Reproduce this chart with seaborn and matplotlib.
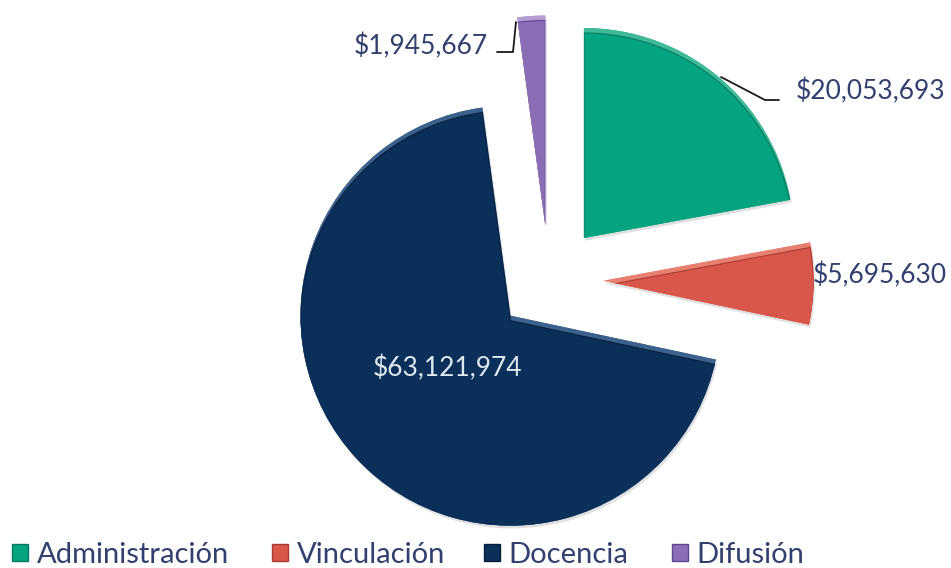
import matplotlib
matplotlib.use("Agg")
import matplotlib.pyplot as plt
import matplotlib.patheffects as pe
from matplotlib.patches import Patch, PathPatch
from matplotlib.transforms import Affine2D
import seaborn as sns

categorias = ["Administración", "Vinculación", "Docencia", "Difusión"]
montos = [20053693, 5695630, 63121974, 1945667]
etiquetas = ["$20,053,693", "$5,695,630", "$63,121,974", "$1,945,667"]
colores = ["#03a47f", "#d9574a", "#0a305a", "#8a6db5"]
claros = ["#3fb997", "#e88072", "#3a628c", "#b39cd2"]
bordes = ["#027a5f", "#a93a30", "#071f3c", "#5f4690"]
separacion = [0.26, 0.26, 0.25, 0.26]
pos_leyenda = [12, 272, 484, 672]

sns.set_theme(style="white")
plt.rcParams["font.family"] = ["Lato", "DejaVu Sans"]
azul = "#33406f"

W, H = 951, 568
cx, cy, R = 549, 280, 210

fig, ax = plt.subplots(figsize=(W / 100, H / 100), dpi=100)
ax.set_position([0, 0, 1, 1])
wedges, _ = ax.pie(montos, colors=claros, startangle=90, counterclock=False,
                   explode=separacion, radius=1, center=(0, 0),
                   wedgeprops=dict(linewidth=0))
ax.set_xlim(-cx / R, (W - cx) / R)
ax.set_ylim(-(H - cy) / R, cy / R)
ax.set_aspect("equal")
ax.axis("off")

# bisel: la cara de cada rebanada corrida hacia abajo y recortada, queda una banda clara arriba
for w, c, b in zip(wedges, colores, bordes):
    w.set_path_effects([pe.withSimplePatchShadow(offset=(1, -2), shadow_rgbFace="#999999", alpha=0.3),
                        pe.Normal()])
    cara = PathPatch(w.get_path(), transform=w.get_transform() + Affine2D().translate(0, -5),
                     facecolor=c, edgecolor=b, linewidth=0.8, zorder=w.get_zorder() + 0.2)
    ax.add_patch(cara)
    cara.set_clip_path(w)


def px(x, y):
    return (x / W, 1 - y / H)


# lineas guia
guia1 = [(721, 77), (765, 100), (779, 100)]
guia2 = [(497, 52), (513, 52), (516, 22)]
for guia in (guia1, guia2):
    fig.add_artist(plt.Line2D([px(x, y)[0] for x, y in guia], [px(x, y)[1] for x, y in guia],
                              color="#1a1a1a", lw=1.3))

# etiquetas de valores
fs = 19
fig.text(*px(796, 91), etiquetas[0], color=azul, fontsize=fs, ha="left", va="center")
fig.text(*px(813, 275), etiquetas[1], color=azul, fontsize=fs, ha="left", va="center")
fig.text(*px(373, 368), etiquetas[2], color="#dfe8f0", fontsize=fs, ha="left", va="center")
fig.text(*px(354, 46), etiquetas[3], color=azul, fontsize=fs, ha="left", va="center")

# leyenda, una entrada por posicion
for n, c, b, x in zip(categorias, colores, bordes, pos_leyenda):
    fig.legend(handles=[Patch(facecolor=c, edgecolor=b, label=n)], loc="center left",
               bbox_to_anchor=(x / W, 1 - 555 / H), frameon=False, fontsize=21, labelcolor=azul,
               handlelength=0.55, handleheight=0.55, handletextpad=0.3, borderpad=0, borderaxespad=0)

fig.savefig("out.png", dpi=100)
